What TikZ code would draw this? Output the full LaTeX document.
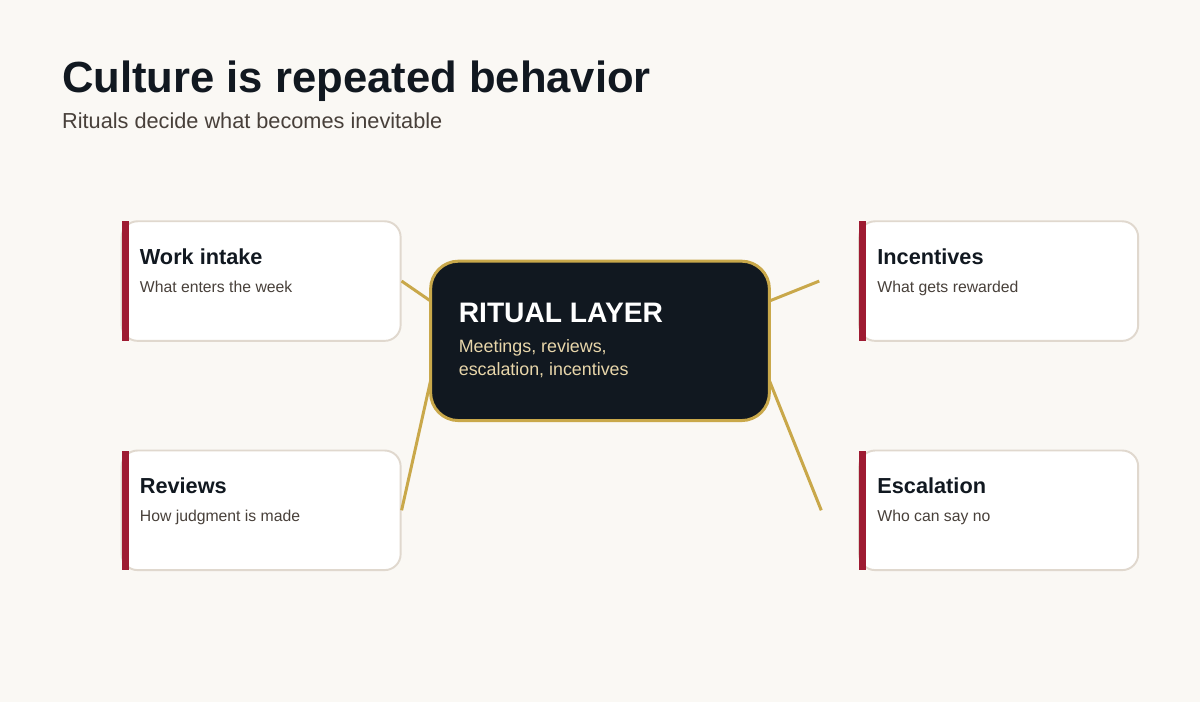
\documentclass[tikz,border=0pt]{standalone}
\usepackage{fontspec}
\setmainfont{Liberation Sans}
\usetikzlibrary{positioning}
\definecolor{ritualbg}{RGB}{250, 248, 244}
\definecolor{ritualink}{RGB}{17, 24, 32}
\definecolor{ritualgold}{RGB}{201, 168, 74}
\definecolor{ritualcream}{RGB}{232, 214, 170}
\definecolor{ritualred}{RGB}{158, 27, 50}
\definecolor{ritualedge}{RGB}{224, 216, 206}
\definecolor{ritualgray}{RGB}{72, 64, 58}
\tikzset{
  card/.style={draw=ritualedge, line width=1.1pt, fill=white, rounded corners=0.32cm,
    minimum width=5.6cm, minimum height=2.4cm, inner sep=0pt},
  cardtitle/.style={anchor=base west, inner sep=0pt, text=ritualink, font=\fontsize{12.4}{14}\selectfont\bfseries},
  cardsub/.style={anchor=base west, inner sep=0pt, text=ritualgray, font=\fontsize{9}{10}\selectfont},
  link/.style={draw=ritualgold, line width=1.7pt},
}
\begin{document}
\begin{tikzpicture}[x=0.02cm, y=-0.02cm]
    % Background
    \fill[ritualbg] (-2,-2) rectangle (1202,702);
    \useasboundingbox (0,0) rectangle (1200,700);

    % Heading
    \node[anchor=base west, inner sep=0pt, text=ritualink, font=\fontsize{24.9}{30}\selectfont\bfseries] (title) at (60,91) {Culture is repeated behavior};
    \node[anchor=base west, inner sep=0pt, text=ritualgray, font=\fontsize{12.4}{14}\selectfont] (subtitle) at (60,127) {Rituals decide what becomes inevitable};

    % Cards
    \foreach \name/\x/\y/\head/\desc in {intake/260/280/Work intake/What enters the week,
        reviews/260/510/Reviews/How judgment is made,
        incentives/1000/280/Incentives/What gets rewarded,
        escalation/1000/510/Escalation/Who can say no} {
      \node[card] (\name) at (\x,\y) {};
      \fill[ritualred] (\x-140,\y-60) rectangle (\x-133,\y+60);
      \node[cardtitle] (\name-title) at (\x-122,\y-17) {\head};
      \node[cardsub] (\name-sub) at (\x-122,\y+11) {\desc};
    }

    % Center
    \node[draw=ritualgold, line width=1.7pt, fill=ritualink, rounded corners=0.56cm,
      minimum width=6.8cm, minimum height=3.2cm] (ritual) at (600,340) {};
    \node[anchor=base west, inner sep=0pt, text=white, font=\fontsize{16.1}{20}\selectfont\bfseries] (ritual-title) at (458,322) {RITUAL LAYER};
    \node[anchor=north west, inner sep=0pt, text=ritualcream, font=\fontsize{10.2}{13.6}\selectfont, align=left] (ritual-sub) at (458,338) {Meetings, reviews,\\escalation, incentives};

    % Links
    \coordinate (c-nw) at (430,300);
    \coordinate (c-sw) at (430,380);
    \coordinate (c-ne) at (770,300);
    \coordinate (c-se) at (770,380);
    \coordinate (end-ne) at (820,280);
    \coordinate (end-se) at (822,510);
    \draw[link] (intake.east) -- (c-nw);
    \draw[link] (reviews.east) -- (c-sw);
    \draw[link] (c-ne) -- (end-ne);
    \draw[link] (c-se) -- (end-se);
\end{tikzpicture}
\end{document}
